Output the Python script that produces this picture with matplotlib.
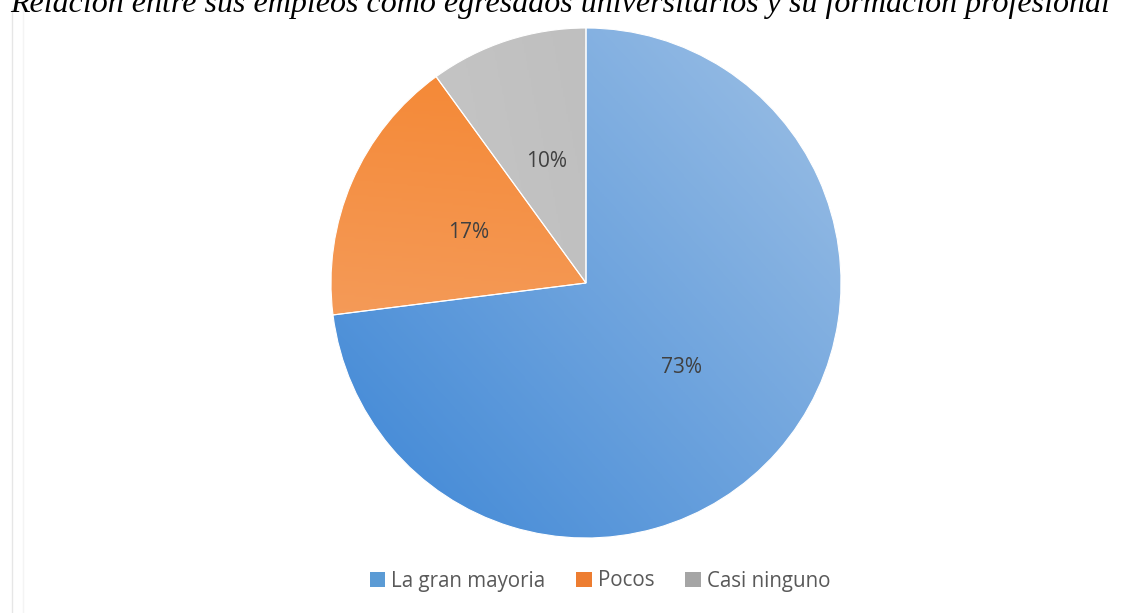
import matplotlib.pyplot as plt
import numpy as np
from matplotlib.patches import Patch
from matplotlib.colors import LinearSegmentedColormap

labels = ['La gran mayoria', 'Pocos', 'Casi ninguno']
values = [73, 17, 10]
title = 'Relación entre sus empleos como egresados universitarios y su formación profesional'

# dark/light ends of each slice gradient and the gradient direction (x, y up)
shades = [('#4a8ed8', '#90b8e3'), ('#f4a872', '#f5852f'), ('#c9c9c9', '#b8b8b8')]
directions = [(1.0, 0.9), (0.1, 1.0), (1.0, 0.2)]
swatches = ['#5b9bd5', '#ed7d31', '#a5a5a5']

W, H = 1147, 613
cx, cy, r = 586, H - 283, 255


def fill_gradient(ax, wedge, c0, c1, d):
    d = np.array(d) / np.hypot(*d)
    xs = np.linspace(cx - r, cx + r, 300)
    ys = np.linspace(cy - r, cy + r, 300)
    X, Y = np.meshgrid(xs, ys)
    t = ((X - cx) * d[0] + (Y - cy) * d[1]) / (2 * r) + 0.5
    cmap = LinearSegmentedColormap.from_list('g', [c0, c1])
    im = ax.imshow(t, cmap=cmap, vmin=0, vmax=1, origin='lower',
                   extent=(cx - r, cx + r, cy - r, cy + r), zorder=1,
                   interpolation='bilinear')
    im.set_clip_path(wedge)


def main():
    fig = plt.figure(figsize=(W / 100, H / 100), dpi=100)
    ax = fig.add_axes([0, 0, 1, 1])

    wedges, texts, autotexts = ax.pie(
        values, center=(cx, cy), radius=r, startangle=90, counterclock=False,
        autopct='%1.0f%%', pctdistance=0.5,
        wedgeprops=dict(edgecolor='white', linewidth=0.8),
        textprops=dict(color='#404040', fontsize=15, family='Open Sans'))

    for w in wedges:
        w.set_facecolor('none')
        w.set_zorder(2)
    for (c0, c1), d, w in zip(shades, directions, wedges):
        fill_gradient(ax, w, c0, c1, d)
    for t in autotexts:
        t.set_zorder(3)

    ax.set_xlim(0, W)
    ax.set_ylim(0, H)
    ax.set_aspect('auto')
    ax.axis('off')

    # faint chart-area border on the left
    ax.plot([11.5, 11.5], [0, H - 9], color='#e6e6e6', lw=1, zorder=0)
    ax.plot([23, 23], [0, H - 9], color='#f4f4f4', lw=1, zorder=0)

    fig.text(560 / W, 1 - 12 / H, title, ha='center', va='baseline',
             fontsize=23, style='italic', family='Liberation Serif', color='black')

    handles = [Patch(facecolor=c, edgecolor='none') for c in swatches]
    fig.legend(handles, labels, loc='center', bbox_to_anchor=(600 / W, 1 - 581 / H),
               ncol=3, frameon=False, handlelength=0.75, handleheight=0.75,
               handletextpad=0.3, columnspacing=1.5,
               prop=dict(family='Open Sans', size=14.8), labelcolor='#595959')

    fig.savefig('out.png', dpi=100)


main()
